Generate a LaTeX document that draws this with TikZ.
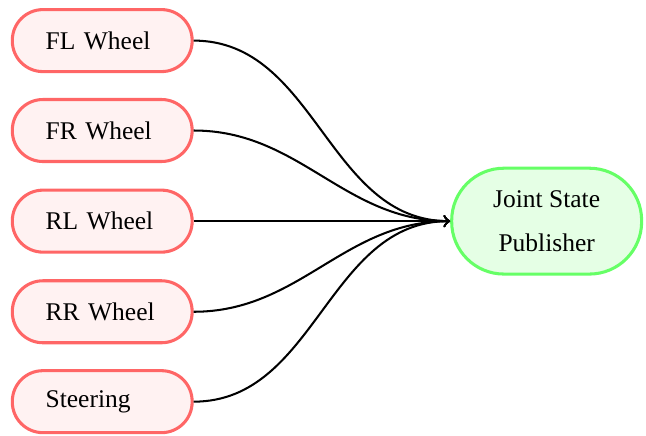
\documentclass[tikz,border=0pt]{standalone}
\usepackage{fontspec}
\setmainfont{Liberation Serif}

\tikzset{
	wheel/.style={rectangle, rounded corners=12pt, draw=red!60, fill=red!5, line width=1.2pt,
		minimum width=2.48cm, minimum height=0.855cm, text width=1.56cm, align=left},
	publisher/.style={rectangle, rounded corners=20.5pt, draw=green!60, fill=green!10, line width=1.2pt,
		minimum width=2.62cm, minimum height=1.46cm, align=center},
	link/.style={->, line width=0.8pt, out=0, in=180}
}

\begin{document}
\begin{tikzpicture}
	\useasboundingbox (0,0) rectangle (8.91,-6.0);

	\node[wheel] (fl) at (1.41,-0.56) {FL Wheel};
	\node[wheel] (fr) at (1.41,-1.80) {FR Wheel};
	\node[wheel] (rl) at (1.41,-3.05) {RL Wheel};
	\node[wheel] (rr) at (1.41,-4.30) {RR Wheel};
	\node[wheel] (steer) at (1.41,-5.54) {Steering};
	\node[publisher] (jsp) at (7.54,-3.05) {Joint State\\[5pt]Publisher};

	\path [link] (fl) edge (jsp);
	\path [link] (fr) edge (jsp);
	\path [link] (rl) edge (jsp);
	\path [link] (rr) edge (jsp);
	\path [link] (steer) edge (jsp);
\end{tikzpicture}
\end{document}
